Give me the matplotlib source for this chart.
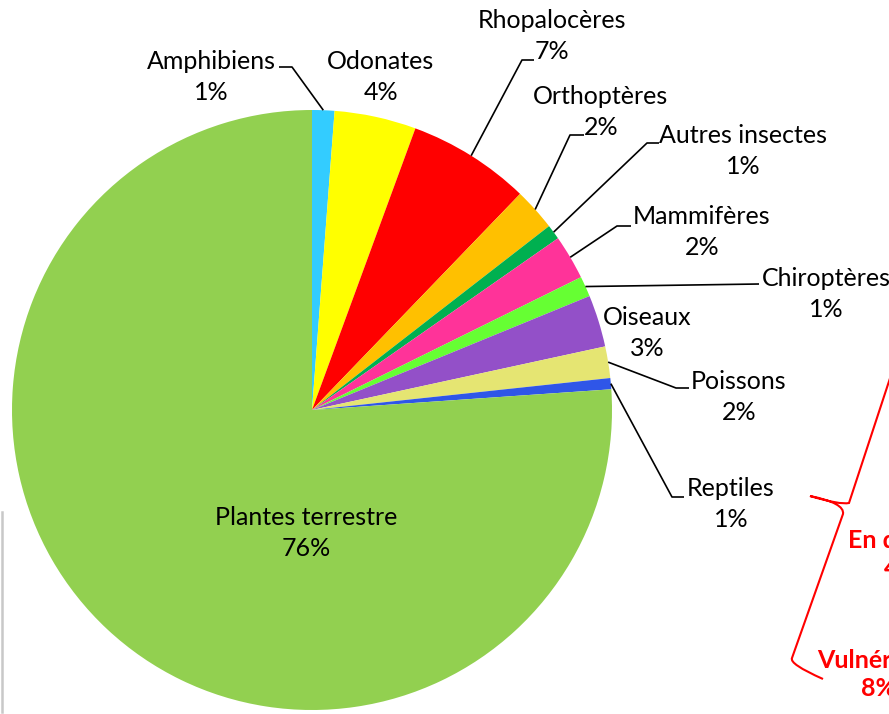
import numpy as np
import matplotlib.pyplot as plt
from matplotlib.path import Path
from matplotlib.patches import PathPatch

# données (% des espèces par groupe)
groupes = ["Amphibiens", "Odonates", "Rhopalocères", "Orthoptères", "Autres insectes",
           "Mammifères", "Chiroptères", "Oiseaux", "Poissons", "Reptiles", "Plantes terrestre"]
valeurs = [1.2, 4.4, 6.6, 2.3, 0.8, 2.4, 1.1, 2.8, 1.7, 0.6, 76.1]
couleurs = ["#33CCFF", "#FFFF00", "#FF0000", "#FFC000", "#00B050",
            "#FF3399", "#66FF33", "#9350C8", "#E5E572", "#2F56E8", "#92D050"]

W, H = 889, 714
plt.rcParams['font.family'] = ['Lato', 'DejaVu Sans']

fig = plt.figure(figsize=(W / 100, H / 100), dpi=100)
ax = fig.add_axes([0, 0, 1, 1])
ax.set_xlim(0, W)
ax.set_ylim(0, H)

def Y(y):
    # coordonnées image -> axes
    return H - y

cx, cy, r = 312, Y(410), 300
wedges, _ = ax.pie(valeurs, colors=couleurs, startangle=90, counterclock=False,
                   center=(cx, cy), radius=r, frame=True,
                   wedgeprops=dict(linewidth=0))
ax.set_xlim(0, W)
ax.set_ylim(0, H)
ax.axis('off')

pct = [f"{round(v)}%" for v in valeurs]

# position des étiquettes (centre du bloc) et coude de la ligne de rappel
pos = {
    "Amphibiens": (211, 77, [(292, 67), (279, 67)]),
    "Odonates": (381, 77, None),
    "Rhopalocères": (552, 36, [(522, 60), (534, 60)]),
    "Orthoptères": (601, 112, [(570, 135), (584, 135)]),
    "Autres insectes": (743, 151, [(647, 143), (659, 143)]),
    "Mammifères": (702, 232, [(617, 226), (631, 226)]),
    "Chiroptères": (826, 294, [(759, 284)]),
    "Oiseaux": (647, 333, None),
    "Poissons": (739, 397, [(676, 388), (689, 388)]),
    "Reptiles": (731, 504, [(672, 497), (684, 497)]),
    "Plantes terrestre": (306, 533, None),
}

fs = 18
for w, nom, p in zip(wedges, groupes, pct):
    x, y, coude = pos[nom]
    ax.text(x, Y(y), nom + "\n" + p, ha='center', va='center', fontsize=fs,
            linespacing=1.38, color='black')
    if coude:
        a = np.deg2rad((w.theta1 + w.theta2) / 2)
        xs = [cx + r * np.cos(a)] + [c[0] for c in coude]
        ys = [cy + r * np.sin(a)] + [Y(c[1]) for c in coude]
        ax.plot(xs, ys, color='black', lw=1.2, solid_capstyle='butt')

# accolade rouge
verts = [(896, 360), (849, 503), (840, 505), (810, 496),
         (845, 503), (843, 514), (792, 658), (789, 664), (823, 679)]
codes = [Path.MOVETO, Path.LINETO, Path.CURVE3, Path.CURVE3,
         Path.CURVE3, Path.CURVE3, Path.LINETO, Path.CURVE3, Path.CURVE3]
verts = [(vx, Y(vy)) for vx, vy in verts]
ax.add_patch(PathPatch(Path(verts, codes), fill=False, edgecolor='#FF0000', lw=1.5))

# textes rouges (coupés au bord comme dans l'original)
ax.text(848, Y(540), "En danger", ha='left', va='center', fontsize=fs,
        fontweight='bold', color='#FF0000')
ax.text(884, Y(568), "4%", ha='left', va='center', fontsize=fs,
        fontweight='bold', color='#FF0000')
ax.text(817, Y(660), "Vulnérable", ha='left', va='center', fontsize=fs,
        fontweight='bold', color='#FF0000')
ax.text(861, Y(688), "8%", ha='left', va='center', fontsize=fs,
        fontweight='bold', color='#FF0000')

# trait gris à gauche
ax.plot([1.5, 1.5], [Y(512), Y(712)], color='#C8C8C8', lw=1.8)

fig.savefig("out.png", dpi=100)
